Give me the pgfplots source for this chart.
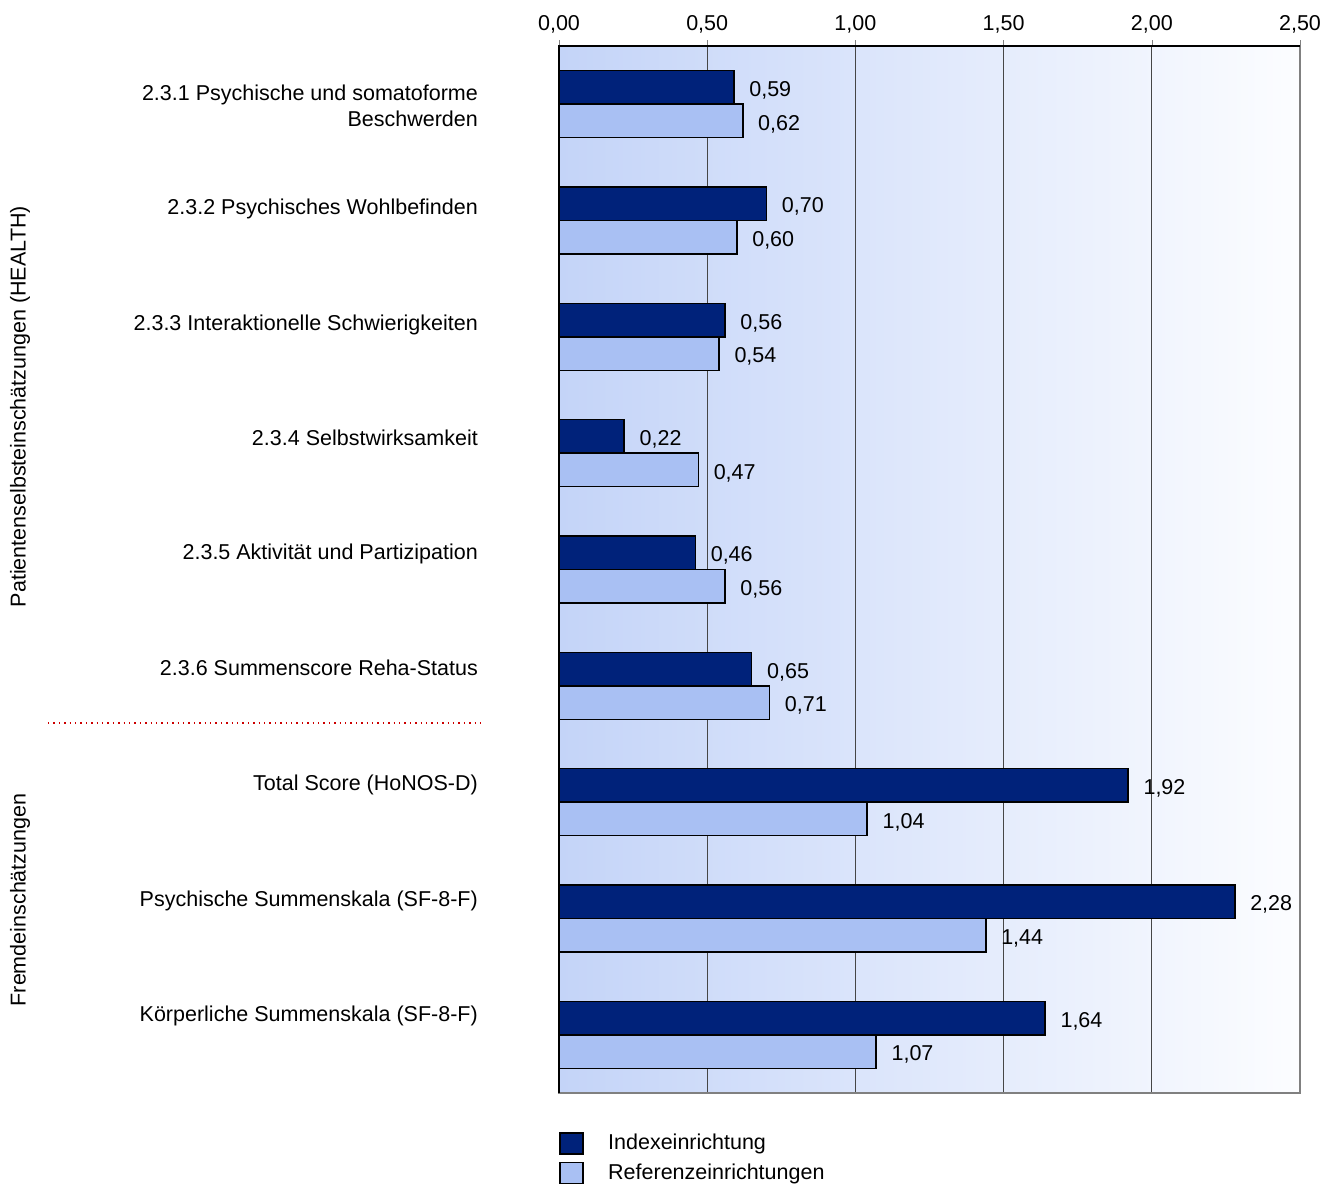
\documentclass[border=0pt]{standalone}
\usepackage{pgfplots}
\pgfplotsset{compat=1.18}
\usepackage{fontspec}
\setmainfont{Liberation Sans}
\definecolor{navyb}{RGB}{0,34,122}
\definecolor{lightb}{RGB}{169,192,243}
\definecolor{bgleft}{RGB}{196,212,248}
\definecolor{bgright}{RGB}{252,253,255}
\definecolor{gridc}{RGB}{70,70,70}
\begin{document}
\begin{tikzpicture}[font=\fontsize{10.75}{13}\selectfont]
\useasboundingbox (-279.5pt,-46pt) rectangle (390pt,546.5pt);
\begin{axis}[
  at={(0,0)}, anchor=south west,
  width=370.5pt, height=523.5pt, scale only axis,
  xbar, bar width=16.75pt,
  xmin=0, xmax=2.5, ymin=0.5, ymax=9.5, y dir=reverse,
  ytick=\empty,
  xtick={0,0.5,1,1.5,2,2.5},
  xticklabel pos=upper, xtick pos=upper,
  tick align=outside, major tick length=3pt,
  /pgf/number format/assume math mode=true,
  xticklabel style={/pgf/number format/.cd, fixed, fixed zerofill, precision=2, use comma},
  xmajorgrids, grid style={gridc, line width=0.5pt},
  axis line style={draw=gray, line width=0.6pt},
  axis background/.style={left color=bgleft, right color=bgright},
  clip=false,
  point meta=x,
  nodes near coords={\pgfmathprintnumber[fixed,fixed zerofill,precision=2,use comma]{\pgfplotspointmeta}},
  nodes near coords style={anchor=west, xshift=4pt, yshift=-1.5pt, text=black},
  legend style={at={(0,-0.035)}, anchor=north west, draw=none, fill=none,
    legend cell align=left, row sep=1.5pt, column sep=10pt, inner sep=0pt},
  legend image code/.code={\draw[#1, line width=0.9pt] (0pt,-5.25pt) rectangle (11.5pt,5.25pt);},
]
\addplot[draw=black, line width=0.8pt, fill=navyb, bar shift=8.375pt] coordinates {
(0.59,1) (0.70,2) (0.56,3) (0.22,4) (0.46,5) (0.65,6) (1.92,7) (2.28,8) (1.64,9)};
\addplot[draw=black, line width=0.8pt, fill=lightb, bar shift=-8.375pt] coordinates {
(0.62,1) (0.60,2) (0.54,3) (0.47,4) (0.56,5) (0.71,6) (1.04,7) (1.44,8) (1.07,9)};
\legend{Indexeinrichtung, Referenzeinrichtungen}
\draw[black, line width=0.6pt] (axis cs:0,9.5) -- (axis cs:0,0.5) -- (axis cs:2.5,0.5);
\draw[red!80!black, dotted, line width=0.7pt] (axis cs:-1.724,6.32) -- (axis cs:-0.25,6.32);
\node[anchor=east, align=right] at (axis cs:-0.25,1.01) {2.3.1 Psychische und somatoforme\\Beschwerden};
\node[anchor=east] at (axis cs:-0.25,1.903) {2.3.2 Psychisches Wohlbefinden};
\node[anchor=east] at (axis cs:-0.25,2.898) {2.3.3 Interaktionelle Schwierigkeiten};
\node[anchor=east] at (axis cs:-0.25,3.871) {2.3.4 Selbstwirksamkeit};
\node[anchor=east] at (axis cs:-0.25,4.864) {2.3.5 Aktivität und Partizipation};
\node[anchor=east] at (axis cs:-0.25,5.846) {2.3.6 Summenscore Reha-Status};
\node[anchor=east] at (axis cs:-0.25,6.853) {Total Score (HoNOS-D)};
\node[anchor=east] at (axis cs:-0.25,7.848) {Psychische Summenskala (SF-8-F)};
\node[anchor=east] at (axis cs:-0.25,8.84) {Körperliche Summenskala (SF-8-F)};
\node[rotate=90] at (axis cs:-1.818,3.6) {Patientenselbsteinschätzungen (HEALTH)};
\node[rotate=90] at (axis cs:-1.818,7.84) {Fremdeinschätzungen};
\end{axis}
\end{tikzpicture}
\end{document}
